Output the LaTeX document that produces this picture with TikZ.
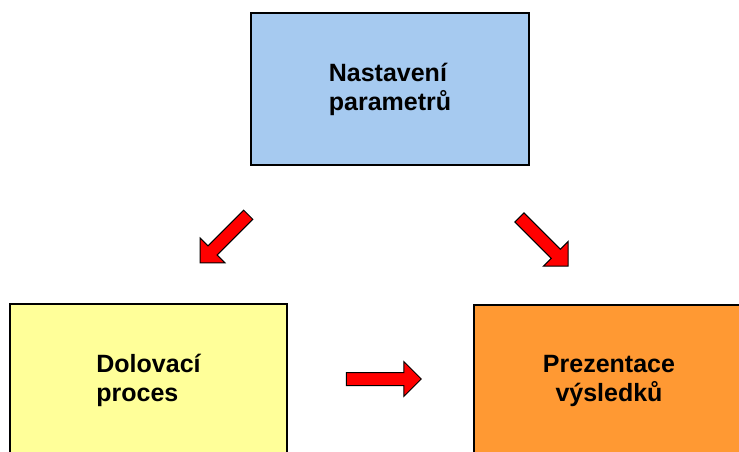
\documentclass[tikz,border=0pt]{standalone}
\usepackage{fontspec}
\setmainfont{Liberation Sans}
\usetikzlibrary{shapes.arrows}
\definecolor{boxblue}{RGB}{166,202,240}
\definecolor{boxyellow}{RGB}{255,255,153}
\definecolor{boxorange}{RGB}{255,153,51}
\begin{document}
\begin{tikzpicture}[x=1pt,y=-1pt,
  box/.style={draw=black,line width=1.5pt,rectangle,minimum width=278pt,minimum height=152pt,font=\fontsize{25}{29}\selectfont\bfseries},
  redarrow/.style={single arrow,draw=black,fill=red,line width=1pt,inner sep=0pt,inner ysep=6pt,single arrow head extend=11pt,minimum height=#1}]
\path[use as bounding box,fill=white] (0,0) rectangle (739,452);
\node[box,fill=boxblue,align=left] (params) at (390,89) {Nastavení\\parametrů};
\node[box,fill=boxyellow,minimum width=277pt,align=left] (mining) at (148.5,380) {Dolovací\\proces};
\node[box,fill=boxorange,minimum width=270pt,align=center] (results) at (609,381) {Prezentace\\výsledků};
\node[redarrow=68pt,rotate=225] (toleft) at (226.5,236.5) {};
\node[redarrow=69pt,rotate=-45] (toright) at (541.5,239.5) {};
\node[redarrow=75pt] (across) at (380.5,379) {};
\end{tikzpicture}
\end{document}
